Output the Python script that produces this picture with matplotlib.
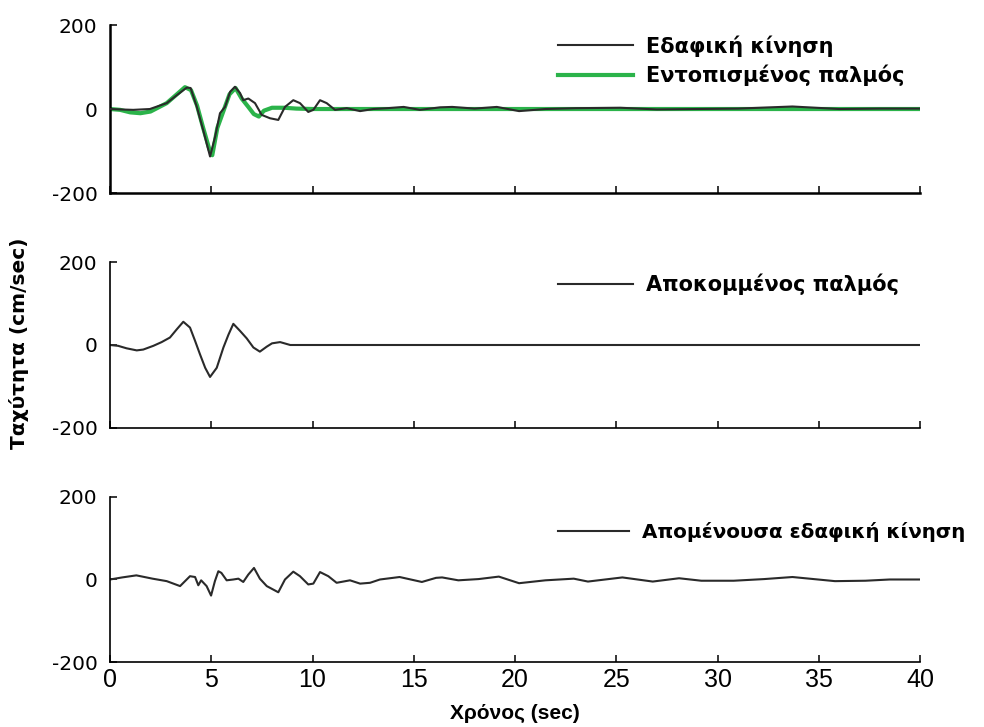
import matplotlib
matplotlib.use("Agg")
import matplotlib.pyplot as plt

plt.rcParams['font.family'] = ['DejaVu Sans']
plt.rcParams['axes.unicode_minus'] = False

# ground motion (top, black)
t_g = [0, 0.5, 1.15, 1.97, 2.8, 3.3, 3.79, 3.98, 4.28, 4.6, 4.94, 5.19, 5.43, 5.68, 5.93,
       6.17, 6.42, 6.58, 6.83, 7.16, 7.49, 7.9, 8.31, 8.64, 9.05, 9.38, 9.79, 10.04, 10.37, 10.7,
       11.11, 11.69, 12.35, 13.0, 13.7, 14.5, 15.3, 16.3, 16.9, 18.0, 19.1, 20.2, 21.5, 23.0, 25.2,
       27.0, 29.0, 31.0, 33.7, 36.0, 38.0, 40.0]
v_g = [0, -1, -2, 0, 14, 33, 51, 50, 6, -50, -113, -66, -10, 5, 41,
       53, 38, 21, 25, 14, -14, -22, -26, 5, 21, 14, -7, -2, 21, 14,
       -2, 2, -5, 0, 2, 5, -2, 4, 5, 1, 5, -5, 0, 2, 3,
       -1, 0, 1, 6, 0, 1, 1]

# identified pulse (top, green)
t_p = [0, 0.5, 1.0, 1.5, 2.0, 2.8, 3.3, 3.7, 4.0, 4.3, 4.6, 4.9, 5.05, 5.3, 5.6,
       5.9, 6.2, 6.5, 6.83, 7.1, 7.35, 7.6, 8.0, 8.6, 9.2, 10, 12, 15, 20, 25, 30, 35, 40]
v_p = [0, -2, -8, -10, -6, 14, 35, 52, 45, 8, -45, -95, -110, -45, -5,
       35, 50, 25, 5, -12, -18, -4, 3, 3, 1, 0, 0, 0, 0, 0, 0, 0, 0]

# extracted pulse (middle)
t_c = [0, 0.4, 0.82, 1.32, 1.64, 2.14, 2.55, 2.96, 3.3, 3.62, 3.95, 4.2, 4.44, 4.7, 4.94,
       5.27, 5.6, 5.85, 6.09, 6.42, 6.75, 7.08, 7.4, 7.74, 8.0, 8.4, 8.9, 10, 15, 20, 25, 30, 35, 40]
v_c = [0, -2, -8, -13, -11, -2, 7, 18, 38, 56, 42, 10, -22, -55, -77,
       -55, -6, 25, 51, 34, 16, -6, -16, -4, 4, 7, 0, 0, 0, 0, 0, 0, 0, 0]

# residual ground motion (bottom)
t_r = [0, 0.6, 1.3, 2.1, 2.8, 3.46, 3.95, 4.2, 4.36, 4.5, 4.77, 4.99, 5.18, 5.35, 5.5,
       5.76, 6.09, 6.34, 6.58, 6.83, 7.11, 7.4, 7.74, 8.31, 8.64, 9.05, 9.38, 9.79, 10.04, 10.37,
       10.78, 11.19, 11.85, 12.35, 12.84, 13.33, 14.3, 15.4, 16.1, 16.4, 17.2, 18.2, 19.2, 20.2, 21.5,
       22.9, 23.6, 25.3, 26.8, 28.1, 29.2, 30.8, 32.3, 33.7, 35.8, 37.3, 38.5, 40.0]
v_r = [0, 5, 10, 2, -4, -16, 8, 6, -14, -2, -16, -39, -4, 20, 16,
       -2, 0, 2, -6, 12, 28, 2, -16, -31, 0, 19, 8, -12, -10, 18,
       8, -8, -2, -10, -8, 0, 6, -6, 4, 5, -2, 1, 7, -9, -2,
       2, -5, 5, -5, 3, -3, -3, 1, 6, -4, -3, 0, 0]

xticks = [0, 5, 10, 15, 20, 25, 30, 35, 40]
yticks = [-200, 0, 200]

fig = plt.figure(figsize=(9.84, 7.27), dpi=100)
ax1 = fig.add_axes([0.1118, 0.7345, 0.8232, 0.2311])
ax2 = fig.add_axes([0.1118, 0.4113, 0.8232, 0.2283])
ax3 = fig.add_axes([0.1118, 0.0894, 0.8232, 0.2270])

ax1.plot(t_p, v_p, color='#2bb34a', lw=3, label='Εντοπισμένος παλμός', zorder=2)
ax1.plot(t_g, v_g, color='#2a2a2a', lw=1.5, label='Εδαφική κίνηση', zorder=3)
ax2.plot(t_c, v_c, color='#2a2a2a', lw=1.5, label='Αποκομμένος παλμός')
ax3.plot(t_r, v_r, color='#2a2a2a', lw=1.5, label='Απομένουσα εδαφική κίνηση')

for ax in (ax1, ax2, ax3):
    ax.set_xlim(0, 40)
    ax.set_ylim(-200, 200)
    ax.set_xticks(xticks)
    ax.set_yticks(yticks)
    ax.spines['top'].set_visible(False)
    ax.spines['right'].set_visible(False)
    ax.spines['left'].set_linewidth(1.2)
    ax.spines['bottom'].set_linewidth(1.2)
    ax.tick_params(direction='in', length=5, width=1.1, labelsize=14.5, pad=9)

ax1.spines['left'].set_linewidth(1.8)
ax1.spines['bottom'].set_linewidth(1.8)
ax1.tick_params(labelbottom=False)
ax2.tick_params(labelbottom=False)
ax3.tick_params(axis='x', pad=4)
for lab in ax3.get_xticklabels():
    lab.set_family('Liberation Sans')
    lab.set_fontsize(18)

leg_kw = dict(loc='upper left', frameon=False, borderpad=0, borderaxespad=0,
              handlelength=3.6, handletextpad=0.65, labelspacing=0.4)
h, l = ax1.get_legend_handles_labels()
ax1.legend([h[1], h[0]], [l[1], l[0]], bbox_to_anchor=(0.553, 0.94),
           prop={'weight': 'bold', 'size': 15}, **leg_kw)
ax2.legend(bbox_to_anchor=(0.553, 0.928), prop={'weight': 'bold', 'size': 15}, **leg_kw)
ax3.legend(bbox_to_anchor=(0.553, 0.848), prop={'weight': 'bold', 'size': 14.3}, **leg_kw)

fig.text(0.019, 0.528, 'Ταχύτητα (cm/sec)', rotation=90, ha='center', va='center',
         fontsize=14.5, fontweight='bold')
fig.text(0.523, 0.018, 'Χρόνος (sec)', ha='center', va='center', fontsize=15,
         fontweight='bold', family='Liberation Sans')

fig.savefig('out.png', dpi=100)
